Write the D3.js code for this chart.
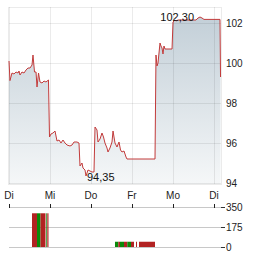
<!DOCTYPE html>
<html>
<head>
<meta charset="utf-8">
<script src="https://cdn.jsdelivr.net/npm/d3@7"></script>
<style>
  html, body { margin: 0; padding: 0; background: #fff; }
  svg { display: block; font-family: "Liberation Sans", Arial, sans-serif; }
</style>
</head>
<body>
<div id="chart"></div>
<script>
// time in days since first "Di" tick, price in EUR
const priceTime = [0, 0.024, 0.073, 0.122, 0.171, 0.220, 0.244, 0.268, 0.317, 0.366, 0.415, 0.463, 0.512,
    0.561, 0.585, 0.622, 0.659, 0.683, 0.720, 0.756, 0.805, 0.854, 0.902, 0.963, 0.988,
    1.024, 1.073, 1.122, 1.171, 1.220, 1.268, 1.317, 1.366, 1.415, 1.488, 1.537, 1.585, 1.659, 1.707,
    1.732, 1.780, 1.805, 1.854, 1.878, 1.927, 1.976, 2.024, 2.073, 2.098, 2.146, 2.171, 2.220,
    2.268, 2.305, 2.341, 2.390, 2.415, 2.463, 2.512, 2.537, 2.585, 2.634, 2.683, 2.720, 2.756,
    2.805, 2.854, 2.878, 3.561, 3.585, 3.610, 3.634, 3.683, 3.707, 3.732, 3.756, 3.780, 3.805,
    3.976, 4.000, 4.049, 4.073, 4.122, 4.293, 4.561, 4.610, 4.659, 4.707, 4.756, 5.146, 5.159];
const priceValue = [100.1, 99.12, 99.5, 99.45, 99.55, 99.5, 99.6, 99.4, 99.55, 99.5, 99.65, 99.75, 99.75,
    99.9, 100.4, 99.55, 99.55, 98.8, 99.5, 99.05, 99.0, 99.1, 99.05, 99.15, 96.3,
    96.45, 96.5, 96.6, 96.1, 96.15, 96.0, 96.15, 96.0, 95.9, 95.85, 95.9, 96.05, 96.05, 96.0,
    94.85, 95.0, 94.75, 94.65, 94.35, 94.65, 94.6, 94.55, 94.55, 96.8, 96.65, 96.05, 96.2,
    96.5, 96.3, 96.0, 95.75, 95.55, 95.75, 96.05, 96.6, 96.0, 95.8, 96.05, 95.65, 95.55,
    95.6, 95.3, 95.2, 95.2, 100.4, 99.85, 100.0, 101.0, 100.85, 100.75, 100.45, 100.85, 100.7,
    100.7, 102.05, 102.15, 102.1, 102.15, 102.15, 102.15, 102.25, 102.3, 102.25, 102.18, 102.18, 99.3];

const dayLabels = ["Di", "Mi", "Do", "Fr", "Mo", "Di"];
const priceTicks = [94, 96, 98, 100, 102];
const volumeTicks = [0, 175, 350];

// volume blocks: start/end time (days), volume, up (true = green)
const volStart = [0.561, 0.683, 0.768, 0.910, 0.934, 2.585, 2.666, 2.707, 2.805, 2.885, 2.976, 3.098, 3.171];
const volEnd   = [0.683, 0.768, 0.890, 0.927, 0.963, 2.666, 2.707, 2.805, 2.885, 2.976, 3.049, 3.122, 3.561];
const volValue = [295, 295, 295, 295, 295, 46, 46, 46, 46, 46, 46, 46, 46];
const volUp    = [false, true, false, true, false, true, false, true, false, true, false, false, false];

const width = 264, height = 255;
const plot = {left: 9, right: 221, top: 7, bottom: 184};

const svg = d3.select("#chart").append("svg")
    .attr("width", width)
    .attr("height", height);

const x = d3.scaleLinear().domain([0, 5]).range([9, 214]);
const y = d3.scaleLinear().domain([94, 102]).range([183, 23]);
const yv = d3.scaleLinear().domain([0, 350]).range([247, 207]);

const prices = priceTime.map((t, i) => ({t, p: priceValue[i]}));

// gradient under the line
const defs = svg.append("defs");
const grad = defs.append("linearGradient")
    .attr("id", "fillGrad")
    .attr("gradientUnits", "userSpaceOnUse")
    .attr("x1", 0).attr("y1", plot.top)
    .attr("x2", 0).attr("y2", plot.bottom);
grad.append("stop").attr("offset", "0%").attr("stop-color", "#c0cdd6");
grad.append("stop").attr("offset", "100%").attr("stop-color", "#f5f7f8");

svg.append("path")
    .datum(prices)
    .attr("fill", "url(#fillGrad)")
    .attr("d", d3.area().x(d => x(d.t)).y0(plot.bottom).y1(d => y(d.p)));

// grid
const grid = svg.append("g").attr("stroke", "#000").attr("stroke-opacity", 0.08).attr("shape-rendering", "crispEdges");
priceTicks.forEach(v => {
    grid.append("line").attr("x1", plot.left).attr("x2", plot.right)
        .attr("y1", Math.round(y(v)) + 0.5).attr("y2", Math.round(y(v)) + 0.5);
});
dayLabels.forEach((d, i) => {
    grid.append("line").attr("y1", plot.top).attr("y2", plot.bottom)
        .attr("x1", Math.round(x(i)) + 0.5).attr("x2", Math.round(x(i)) + 0.5);
});
grid.append("rect")
    .attr("x", plot.left - 0.5).attr("y", plot.top + 0.5)
    .attr("width", plot.right - plot.left + 1).attr("height", plot.bottom - plot.top)
    .attr("fill", "none");

// price line
svg.append("path")
    .datum(prices)
    .attr("fill", "none")
    .attr("stroke", "#c23b3b")
    .attr("stroke-width", 1)
    .attr("d", d3.line().x(d => x(d.t)).y(d => y(d.p)));

// min / max labels
const maxPt = prices.reduce((a, b) => b.p > a.p ? b : a);
const minPt = prices.reduce((a, b) => b.p < a.p ? b : a);
const fmt = v => v.toFixed(2).replace(".", ",");
svg.append("text")
    .attr("x", x(maxPt.t) - 6).attr("y", y(maxPt.p) + 4)
    .attr("text-anchor", "end").attr("font-size", 11).attr("fill", "#111")
    .text(fmt(maxPt.p));
svg.append("text")
    .attr("x", x(minPt.t) + 1).attr("y", y(minPt.p) + 4.5)
    .attr("text-anchor", "start").attr("font-size", 11).attr("fill", "#111")
    .text(fmt(minPt.p));

// price axis labels
svg.append("g").selectAll("text")
    .data(priceTicks)
    .enter().append("text")
    .attr("x", 226).attr("y", d => y(d))
    .attr("dy", "0.35em")
    .attr("font-size", 10).attr("fill", "#222")
    .text(d => d);

// day labels
svg.append("g").selectAll("text")
    .data(dayLabels)
    .enter().append("text")
    .attr("x", (d, i) => x(i)).attr("y", 198.5)
    .attr("text-anchor", "middle")
    .attr("font-size", 10).attr("fill", "#222")
    .text(d => d);

// volume panel
const vg = svg.append("g").attr("shape-rendering", "crispEdges");
volumeTicks.forEach(v => {
    vg.append("line").attr("x1", plot.left).attr("x2", plot.right)
        .attr("y1", Math.round(yv(v)) + 0.5).attr("y2", Math.round(yv(v)) + 0.5)
        .attr("stroke", "#c8c8c8");
    vg.append("line").attr("x1", plot.right).attr("x2", 225)
        .attr("y1", Math.round(yv(v)) + 0.5).attr("y2", Math.round(yv(v)) + 0.5)
        .attr("stroke", "#333");
});
dayLabels.forEach((d, i) => {
    vg.append("line").attr("x1", Math.round(x(i)) + 0.5).attr("x2", Math.round(x(i)) + 0.5)
        .attr("y1", yv(350) - 3).attr("y2", yv(350) + 1)
        .attr("stroke", "#222");
});

svg.append("g").selectAll("rect")
    .data(volStart.map((s, i) => ({s, e: volEnd[i], v: volValue[i], up: volUp[i]})))
    .enter().append("rect")
    .attr("x", d => x(d.s))
    .attr("width", d => x(d.e) - x(d.s))
    .attr("y", d => yv(d.v))
    .attr("height", d => yv(0) - yv(d.v))
    .attr("fill", d => d.up ? "#0a8a0a" : "#b22222");

svg.append("g").selectAll("text")
    .data(volumeTicks)
    .enter().append("text")
    .attr("x", 226).attr("y", d => yv(d))
    .attr("dy", "0.35em")
    .attr("font-size", 10).attr("fill", "#222")
    .text(d => d);
</script>
</body>
</html>
